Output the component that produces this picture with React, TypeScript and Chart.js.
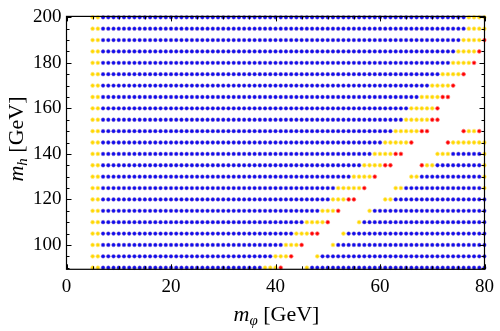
import { useEffect, useRef } from "react";
import { Chart, registerables } from "chart.js";

Chart.register(...registerables);

// m_phi grid (GeV), one point per column
const mPhiGrid = [
  5, 6, 7, 8, 9, 10, 11, 12, 13, 14, 15, 16, 17, 18, 19, 20, 21, 22, 23, 24,
  25, 26, 27, 28, 29, 30, 31, 32, 33, 34, 35, 36, 37, 38, 39, 40, 41, 42, 43, 44,
  45, 46, 47, 48, 49, 50, 51, 52, 53, 54, 55, 56, 57, 58, 59, 60, 61, 62, 63, 64,
  65, 66, 67, 68, 69, 70, 71, 72, 73, 74, 75, 76, 77, 78, 79, 80,
];

// m_h rows (GeV)
const mhRows = [
  200, 195, 190, 185, 180, 175, 170, 165, 160, 155, 150, 145,
  140, 135, 130, 125, 120, 115, 110, 105, 100, 95, 90,
];

// status of each point along a row, run-length coded from m_phi = 5 upward:
// B = blue, Y = yellow, R = red, N = no point
const rowRuns = [
  "Y2 B70 Y4",
  "Y2 B70 Y4",
  "Y2 B69 Y4 R1",
  "Y2 B68 Y4 R1 N1",
  "Y2 B67 Y4 R1 N2",
  "Y2 B65 Y4 R1 N4",
  "Y2 B63 Y4 R1 N6",
  "Y2 B61 Y4 R2 N7",
  "Y2 B59 Y5 R1 N9",
  "Y2 B58 Y5 R2 N9",
  "Y2 B56 Y5 R2 N6 R1 Y2 R1 N1",
  "Y2 B54 Y5 R1 N6 R1 Y7",
  "Y2 B52 Y4 R2 N6 Y3 B6 Y1",
  "Y2 B50 Y4 R2 N5 R1 Y2 B9 Y1",
  "Y2 B48 Y4 R1 N6 Y2 B12 Y1",
  "Y2 B45 Y5 R1 N5 Y2 B15 Y1",
  "Y2 B44 Y3 R2 N5 Y2 B18",
  "Y2 B42 Y3 R1 N5 Y1 B22",
  "Y2 B39 Y4 R1 N5 Y1 B24",
  "Y2 B37 Y3 R2 N4 Y1 B27",
  "Y2 B35 Y3 R1 N5 Y1 B29",
  "Y2 B33 Y3 R1 N4 Y1 B32",
  "Y2 B31 Y3 R1 N4 Y1 B34",
];

const xMajorTicks = [0, 20, 40, 60, 80];
const xMinorTicks = [5, 10, 15, 25, 30, 35, 45, 50, 55, 65, 70, 75];
const yMajorTicks = [100, 120, 140, 160, 180, 200];
const yMinorTicks = [90, 95, 105, 110, 115, 125, 130, 135, 145, 150, 155, 165, 170, 175, 185, 190, 195];

const xTitle = { main: "m", sub: "φ", rest: " [GeV]" };
const yTitle = { main: "m", sub: "h", rest: " [GeV]" };

type Pt = { x: number; y: number };

function buildPoints() {
  const groups: Record<string, Pt[]> = { B: [], Y: [], R: [] };
  rowRuns.forEach((code, r) => {
    let i = 0;
    code.split(" ").forEach((tok) => {
      const kind = tok[0];
      const n = parseInt(tok.slice(1), 10);
      for (let k = 0; k < n; k++) {
        if (kind !== "N") groups[kind].push({ x: mPhiGrid[i], y: mhRows[r] });
        i++;
      }
    });
  });
  return groups;
}

const SERIF = "'Liberation Serif', 'DejaVu Serif', serif";

function drawTitle(
  ctx: CanvasRenderingContext2D,
  t: { main: string; sub: string; rest: string },
  cx: number,
  baseY: number,
  rotate: boolean,
  cy: number
) {
  const big = 22;
  const small = 15;
  ctx.save();
  ctx.fillStyle = "#000";
  ctx.textBaseline = "alphabetic";
  ctx.textAlign = "left";
  ctx.font = `italic ${big}px ${SERIF}`;
  const w1 = ctx.measureText(t.main).width;
  ctx.font = `italic ${small}px ${SERIF}`;
  const w2 = ctx.measureText(t.sub).width;
  ctx.font = `${big}px ${SERIF}`;
  const w3 = ctx.measureText(t.rest).width;
  const total = w1 + w2 + w3;
  if (rotate) {
    ctx.translate(baseY, cy);
    ctx.rotate(-Math.PI / 2);
  } else {
    ctx.translate(cx, baseY);
  }
  let x = -total / 2;
  ctx.font = `italic ${big}px ${SERIF}`;
  ctx.fillText(t.main, x, 0);
  x += w1;
  ctx.font = `italic ${small}px ${SERIF}`;
  ctx.fillText(t.sub, x, 4);
  x += w2;
  ctx.font = `${big}px ${SERIF}`;
  ctx.fillText(t.rest, x, 0);
  ctx.restore();
}

const framePlugin = {
  id: "frameTicks",
  afterDraw(chart: any) {
    const { ctx, chartArea: a, scales } = chart;
    const xs = scales.x;
    const ys = scales.y;
    ctx.save();
    ctx.strokeStyle = "#000";
    ctx.lineWidth = 1.2;
    ctx.strokeRect(a.left, a.top, a.right - a.left, a.bottom - a.top);
    ctx.lineWidth = 1;
    const tick = (x1: number, y1: number, x2: number, y2: number) => {
      ctx.beginPath();
      ctx.moveTo(x1, y1);
      ctx.lineTo(x2, y2);
      ctx.stroke();
    };
    const xt = (vals: number[], len: number) =>
      vals.forEach((v) => {
        const p = Math.round(xs.getPixelForValue(v)) + 0.5;
        tick(p, a.bottom, p, a.bottom - len);
        tick(p, a.top, p, a.top + len);
      });
    const yt = (vals: number[], len: number) =>
      vals.forEach((v) => {
        const p = Math.round(ys.getPixelForValue(v)) + 0.5;
        tick(a.left, p, a.left + len, p);
        tick(a.right, p, a.right - len, p);
      });
    xt(xMajorTicks, 5);
    xt(xMinorTicks, 3);
    yt(yMajorTicks, 5);
    yt(yMinorTicks, 3);
    ctx.restore();
    drawTitle(ctx, xTitle, (a.left + a.right) / 2 + 1, 321, false, 0);
    drawTitle(ctx, yTitle, 0, 23, true, 139);
  },
};

export default function App() {
  const ref = useRef<HTMLCanvasElement | null>(null);
  useEffect(() => {
    if (!ref.current) return;
    const g = buildPoints();
    const chart = new Chart(ref.current, {
      type: "scatter",
      data: {
        datasets: [
          {
            label: "blue",
            data: g.B,
            pointBackgroundColor: "#0d0df0",
            pointBorderColor: "rgba(150,110,200,0.55)",
            pointBorderWidth: 0.8,
            pointRadius: 1.9,
            clip: 2,
          },
          {
            label: "yellow",
            data: g.Y,
            pointBackgroundColor: "#ffd800",
            pointBorderColor: "rgba(255,232,130,0.9)",
            pointBorderWidth: 0.8,
            pointRadius: 1.9,
            clip: 2,
          },
          {
            label: "red",
            data: g.R,
            pointBackgroundColor: "#ff0000",
            pointBorderColor: "rgba(255,120,120,0.9)",
            pointBorderWidth: 0.8,
            pointRadius: 1.9,
            clip: 2,
          },
        ] as any,
      },
      options: {
        animation: false,
        responsive: true,
        maintainAspectRatio: false,
        layout: { padding: { left: 0, right: 12, top: 10.7, bottom: 0 } },
        plugins: { legend: { display: false }, tooltip: { enabled: false } },
        scales: {
          x: {
            type: "linear",
            position: "bottom",
            min: 0,
            max: 80,
            grid: { display: false, drawTicks: false },
            border: { display: false },
            ticks: {
              color: "#000",
              font: { family: SERIF, size: 19 },
              padding: 6,
              maxRotation: 0,
            },
            afterBuildTicks: (s: any) => {
              s.ticks = xMajorTicks.map((v) => ({ value: v }));
            },
            afterFit: (s: any) => {
              s.height = 61.7;
            },
          },
          y: {
            type: "linear",
            position: "left",
            min: 89.3,
            max: 200.4,
            grid: { display: false, drawTicks: false },
            border: { display: false },
            ticks: {
              color: "#000",
              font: { family: SERIF, size: 19 },
              padding: 5,
            },
            afterBuildTicks: (s: any) => {
              s.ticks = yMajorTicks.map((v) => ({ value: v }));
            },
            afterFit: (s: any) => {
              s.width = 66.5;
            },
          },
        },
      },
      plugins: [framePlugin],
    });
    return () => chart.destroy();
  }, []);
  return (
    <div style={{ position: "fixed", left: 0, top: 0, width: 500, height: 331, background: "#fff" }}>
      <canvas ref={ref} />
    </div>
  );
}
